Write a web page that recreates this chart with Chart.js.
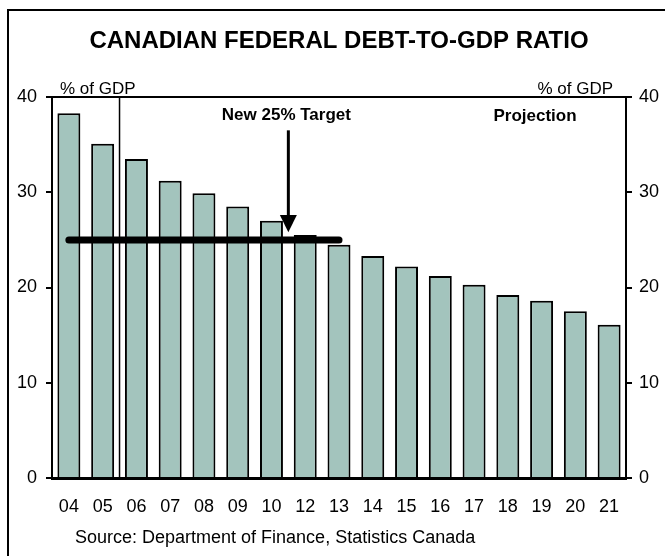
<!DOCTYPE html>
<html>
<head>
<meta charset="utf-8">
<script src="https://cdn.jsdelivr.net/npm/chart.js@4"></script>
<style>
  body { margin: 0; background: #fff; }
</style>
</head>
<body>
<canvas id="myChart" width="665" height="556"></canvas>
<script>
const years = ["04", "05", "06", "07", "08", "09", "10", "12", "13", "14", "15", "16", "17", "18", "19", "20", "21"];
const debtRatio = [38.3, 35.1, 33.5, 31.2, 29.9, 28.5, 27.0, 25.5, 24.5, 23.3, 22.2, 21.2, 20.3, 19.2, 18.6, 17.5, 16.1];
const target = [25, 25, 25, 25, 25, 25, 25, 25, 25, null, null, null, null, null, null, null, null];
const yTicks = [0, 10, 20, 30, 40];

Chart.defaults.font.family = "'Liberation Sans', Arial, sans-serif";
Chart.defaults.color = "#000";

// frame, arrow and the text notes
const extras = {
  id: "extras",
  beforeDraw(chart) {
    const ctx = chart.ctx;
    ctx.save();
    ctx.strokeStyle = "#000";
    ctx.lineWidth = 2;
    ctx.beginPath();
    ctx.moveTo(8, 560);
    ctx.lineTo(8, 10);
    ctx.lineTo(670, 10);
    ctx.stroke();
    ctx.restore();
  },
  afterDraw(chart) {
    const { ctx, chartArea: a, scales } = chart;
    const x = scales.x, y = scales.y;
    ctx.save();
    ctx.strokeStyle = "#000";
    ctx.fillStyle = "#000";

    // top of the plot frame
    ctx.lineWidth = 2;
    ctx.beginPath();
    ctx.moveTo(a.left, a.top);
    ctx.lineTo(a.right, a.top);
    ctx.stroke();

    // divider between 05 and 06
    const vx = (x.getPixelForValue(1) + x.getPixelForValue(2)) / 2;
    ctx.lineWidth = 1.5;
    ctx.beginPath();
    ctx.moveTo(vx, a.top);
    ctx.lineTo(vx, a.bottom);
    ctx.stroke();

    // arrow to the target
    const ax = (x.getPixelForValue(6) + x.getPixelForValue(7)) / 2;
    const top = y.getPixelForValue(36.5);
    const tip = y.getPixelForValue(25.8);
    const base = y.getPixelForValue(27.6);
    ctx.lineWidth = 3;
    ctx.beginPath();
    ctx.moveTo(ax, top);
    ctx.lineTo(ax, base + 1);
    ctx.stroke();
    ctx.beginPath();
    ctx.moveTo(ax - 8.5, base);
    ctx.lineTo(ax + 8.5, base);
    ctx.lineTo(ax, tip);
    ctx.closePath();
    ctx.fill();

    ctx.textBaseline = "alphabetic";
    ctx.font = "17px 'Liberation Sans', Arial, sans-serif";
    ctx.textAlign = "left";
    ctx.fillText("% of GDP", 60, 94);
    ctx.textAlign = "right";
    ctx.fillText("% of GDP", 613, 94);

    ctx.font = "bold 17px 'Liberation Sans', Arial, sans-serif";
    ctx.textAlign = "center";
    ctx.fillText("New 25% Target", ax - 2, 120);
    ctx.fillText("Projection", 535, 121);

    ctx.font = "18px 'Liberation Sans', Arial, sans-serif";
    ctx.textAlign = "left";
    ctx.fillText("Source: Department of Finance, Statistics Canada", 75, 543);
    ctx.restore();
  }
};

const yAxis = (pos, w) => ({
  position: pos,
  min: 0,
  max: 40,
  afterBuildTicks: (axis) => { axis.ticks = yTicks.map(v => ({ value: v })); },
  afterFit: (axis) => { axis.width = w; },
  border: { display: true, color: "#000", width: 2 },
  grid: { drawOnChartArea: false, drawTicks: true, tickLength: 6, color: "#000", lineWidth: 2 },
  ticks: { font: { size: 18 }, padding: pos === "left" ? 9 : 7 }
});

new Chart("myChart", {
  data: {
    labels: years,
    datasets: [
      {
        type: "line",
        label: "New 25% Target",
        data: target,
        borderColor: "#000",
        borderWidth: 7,
        borderCapStyle: "round",
        pointRadius: 0,
        yAxisID: "y",
        order: 0
      },
      {
        type: "bar",
        label: "Debt-to-GDP",
        data: debtRatio,
        backgroundColor: "#a3c4bd",
        borderColor: "#000",
        borderWidth: 2,
        barPercentage: 0.68,
        categoryPercentage: 1,
        yAxisID: "y",
        order: 1
      }
    ]
  },
  options: {
    responsive: false,
    animation: false,
    devicePixelRatio: 1,
    layout: { padding: { left: 13 } },
    plugins: {
      legend: { display: false },
      tooltip: { enabled: false },
      title: {
        display: true,
        text: "CANADIAN FEDERAL DEBT-TO-GDP RATIO",
        font: { size: 24, weight: "bold" },
        padding: { top: 27, bottom: 41.2 }
      }
    },
    scales: {
      x: {
        afterFit: (axis) => { axis.height = 78; },
        border: { display: true, color: "#000", width: 3 },
        grid: { display: false },
        ticks: { font: { size: 18 }, padding: 10, maxRotation: 0, autoSkip: false }
      },
      y: yAxis("left", 39),
      y2: yAxis("right", 39)
    }
  },
  plugins: [extras]
});
</script>
</body>
</html>
